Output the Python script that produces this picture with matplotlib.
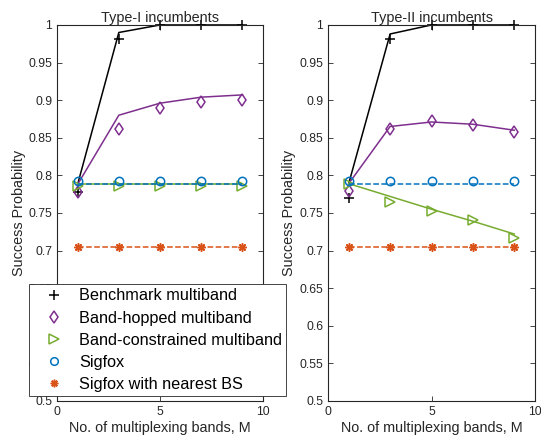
import matplotlib
matplotlib.use("Agg")
import matplotlib.pyplot as plt
from matplotlib.lines import Line2D

plt.rcParams['font.family'] = ['Liberation Sans', 'DejaVu Sans']

# Number of multiplexing bands
bands = [1, 3, 5, 7, 9]

# Type-I incumbents: analysis (lines) and simulation (markers)
t1_bench_ana = [0.788, 0.990, 1.000, 1.000, 1.000]
t1_bench_sim = [0.778, 0.982, 1.000, 1.000, 1.000]
t1_hop_ana = [0.788, 0.880, 0.896, 0.904, 0.907]
t1_hop_sim = [0.778, 0.862, 0.889, 0.897, 0.900]
t1_con_ana = [0.788, 0.788, 0.788, 0.788, 0.788]
t1_con_sim = [0.786, 0.786, 0.786, 0.786, 0.786]
t1_sig_ana = [0.789, 0.789, 0.789, 0.789, 0.789]
t1_sig_sim = [0.792, 0.792, 0.792, 0.792, 0.792]
t1_near_ana = [0.705, 0.705, 0.705, 0.705, 0.705]
t1_near_sim = [0.705, 0.705, 0.705, 0.705, 0.705]

# Type-II incumbents
t2_bench_ana = [0.789, 0.988, 1.000, 1.000, 1.000]
t2_bench_sim = [0.770, 0.982, 1.000, 1.000, 1.000]
t2_hop_ana = [0.789, 0.865, 0.871, 0.868, 0.860]
t2_hop_sim = [0.779, 0.861, 0.872, 0.867, 0.858]
t2_con_ana = [0.789, 0.772, 0.755, 0.739, 0.722]
t2_con_sim = [0.789, 0.765, 0.752, 0.741, 0.717]
t2_sig_ana = [0.789, 0.789, 0.789, 0.789, 0.789]
t2_sig_sim = [0.792, 0.792, 0.792, 0.792, 0.792]
t2_near_ana = [0.705, 0.705, 0.705, 0.705, 0.705]
t2_near_sim = [0.705, 0.705, 0.705, 0.705, 0.705]

labels = ["Benchmark multiband", "Band-hopped multiband",
          "Band-constrained multiband", "Sigfox", "Sigfox with nearest BS"]

# MATLAB default colours
black = "#000000"
purple = "#7E2F8E"
green = "#77AC30"
blue = "#0072BD"
orange = "#D95319"

colors = [black, purple, green, blue, orange]
markers = ["+", "d", ">", "o", (8, 2, 0)]
msizes = [7, 6.5, 7, 6, 6]
styles = ["-", "-", "-", "--", "--"]

fig = plt.figure(figsize=(5.41, 4.45), dpi=100)
ax1 = fig.add_axes([0.1054, 0.0989, 0.3808, 0.845])
ax2 = fig.add_axes([0.6063, 0.0989, 0.3826, 0.845])

panels = [
    (ax1, "Type-I incumbents",
     [t1_bench_ana, t1_hop_ana, t1_con_ana, t1_sig_ana, t1_near_ana],
     [t1_bench_sim, t1_hop_sim, t1_con_sim, t1_sig_sim, t1_near_sim]),
    (ax2, "Type-II incumbents",
     [t2_bench_ana, t2_hop_ana, t2_con_ana, t2_sig_ana, t2_near_ana],
     [t2_bench_sim, t2_hop_sim, t2_con_sim, t2_sig_sim, t2_near_sim]),
]

for ax, title, ana, sim in panels:
    for i in range(5):
        ax.plot(bands, ana[i], linestyle=styles[i], color=colors[i], lw=1.1,
                clip_on=False)
        ax.plot(bands, sim[i], linestyle="none", marker=markers[i],
                color=colors[i], markersize=msizes[i], markerfacecolor="none",
                markeredgewidth=1.1, clip_on=False)
    ax.set_xlim(0, 10)
    ax.set_ylim(0.5, 1)
    ax.set_xticks([0, 5, 10])
    ax.set_yticks([0.5, 0.55, 0.6, 0.65, 0.7, 0.75, 0.8, 0.85, 0.9, 0.95, 1])
    ax.set_yticklabels(["0.5", "0.55", "0.6", "0.65", "0.7", "0.75", "0.8",
                        "0.85", "0.9", "0.95", "1"])
    ax.tick_params(direction="in", top=True, right=True, labelsize=8.7,
                   colors="#262626", length=3.5, width=0.6)
    for sp in ax.spines.values():
        sp.set_linewidth(0.8)
        sp.set_color("#262626")
    ax.set_title(title, fontsize=10.4, pad=2, color="#262626")
    ax.set_xlabel("No. of multiplexing bands, M", fontsize=10.4,
                  color="#262626", labelpad=2)
    ax.set_ylabel("Success Probability", fontsize=10.4, color="#262626",
                  labelpad=2)

# Legend with marker-only entries
handles = [Line2D([], [], linestyle="none", marker=markers[i], color=colors[i],
                  markersize=msizes[i] - 0.5, markerfacecolor="none",
                  markeredgewidth=1.1) for i in range(5)]
leg = fig.legend(handles, labels, loc="lower left",
                 bbox_to_anchor=(0.0536, 0.110), borderaxespad=0,
                 fontsize=11.7, fancybox=False, framealpha=1,
                 edgecolor="#262626", handlelength=2.6, handletextpad=0.25,
                 labelspacing=0.44, borderpad=0.25)
leg.get_frame().set_linewidth(0.6)
leg.set_zorder(10)

fig.savefig("out.png", dpi=100)
